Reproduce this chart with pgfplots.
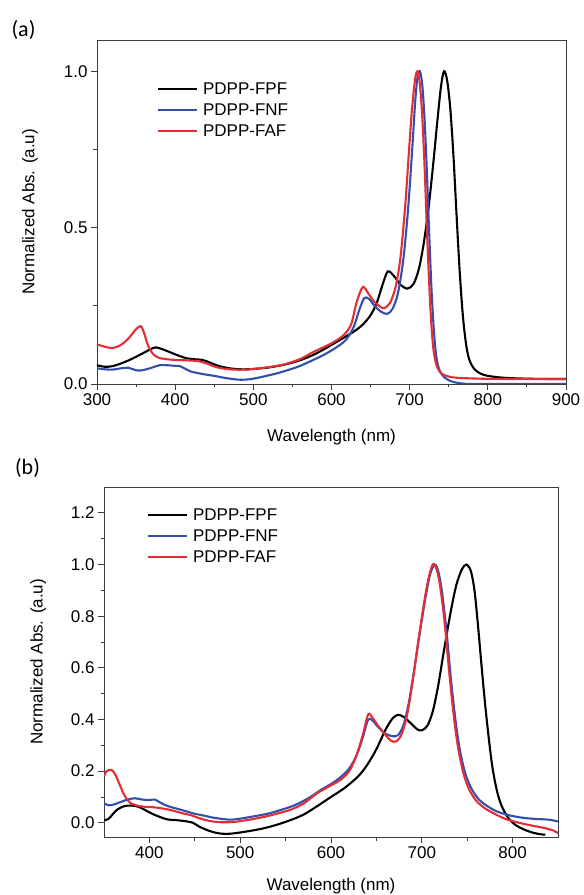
\documentclass[border=0pt]{standalone}
\usepackage{pgfplots}
\pgfplotsset{compat=1.18}
\usepackage{fontspec}
\setmainfont{Liberation Sans}
\newfontfamily\labfont{Carlito}
\definecolor{cblue}{RGB}{50,80,170}
\definecolor{cred}{RGB}{228,45,55}
\definecolor{axgray}{RGB}{60,60,60}
\pgfplotsset{
  myax/.style={
    scale only axis, anchor=south west,
    axis line style={axgray, line width=0.9pt},
    tick style={axgray, line width=0.9pt},
    tick align=outside, tick pos=left,
    major tick length=6pt, minor tick length=3.5pt,
    font=\fontsize{17}{20}\selectfont,
    tick label style={font=\fontsize{17}{20}\selectfont},
    label style={font=\fontsize{17}{20}\selectfont},
    /pgf/number format/assume math mode=true,
    yticklabel style={/pgf/number format/.cd, fixed, fixed zerofill, precision=1},
    xticklabel style={/pgf/number format/.cd, fixed, precision=0},
    every axis plot/.append style={line width=2.1pt, mark=none, smooth, tension=0.5},
    legend cell align=left,
    legend image code/.code={\draw[#1] (0pt,6pt) -- (39pt,6pt);},
    legend style={draw=none, fill=none, inner sep=0pt, outer sep=0pt, row sep=0pt,
      nodes={inner sep=0pt, text height=13pt, text depth=8pt, anchor=base west},
      /tikz/every odd column/.append style={column sep=5pt}},
  }
}
\begin{document}
\begin{tikzpicture}
\useasboundingbox (0pt,0pt) rectangle (584pt,895pt);
\node[font=\labfont\fontsize{22}{24}\selectfont] at (23.5pt,865pt) {(a)};
\node[font=\labfont\fontsize{22}{24}\selectfont] at (27.5pt,427pt) {(b)};
% ---------- (a) ----------
\begin{axis}[myax, at={(97pt,511pt)}, width=469pt, height=344pt,
  xmin=300, xmax=900, ymin=0, ymax=1.1,
  xtick={300,400,...,900}, ytick={0,0.5,1.0},
  minor x tick num=1, minor y tick num=1,
  xlabel={Wavelength (nm)}, ylabel={Normalized Abs. (a.u)},
  every axis x label/.style={at={(axis description cs:0.5,-0.154)}, anchor=center},
  every axis y label/.style={at={(axis description cs:-0.143,0.5)}, rotate=90, anchor=center},
  legend style={at={(axis description cs:0.128,0.879)}, anchor=north west},
]
\addplot[black] coordinates {
(300,0.060)(310,0.055)(320,0.057)(330,0.065)(340,0.075)(350,0.087)(360,0.100)(370,0.113)(376,0.117)
(385,0.110)(395,0.100)(405,0.090)(415,0.082)(425,0.079)(435,0.077)(445,0.068)(455,0.058)(470,0.050)
(485,0.047)(500,0.048)(520,0.053)(540,0.062)(560,0.076)(580,0.097)(600,0.125)(615,0.147)(630,0.170)
(640,0.190)(650,0.220)(658,0.260)(665,0.315)(672,0.360)(680,0.345)(688,0.318)(697,0.305)(705,0.320)
(712,0.370)(718,0.450)(724,0.560)(730,0.700)(735,0.830)(740,0.950)(744,1.000)(748,0.970)(752,0.880)
(756,0.730)(760,0.540)(764,0.360)(768,0.220)(772,0.130)(776,0.080)(782,0.050)(790,0.034)(800,0.026)
(820,0.020)(850,0.017)(880,0.016)(900,0.016)};
\addlegendentry{PDPP-FPF}
\addplot[cblue] coordinates {
(300,0.050)(310,0.047)(320,0.046)(330,0.050)(340,0.052)(345,0.048)(352,0.043)(360,0.045)(370,0.052)
(380,0.060)(390,0.060)(400,0.058)(405,0.058)(412,0.050)(420,0.040)(435,0.032)(450,0.026)(465,0.019)
(480,0.014)(490,0.014)(500,0.017)(515,0.025)(530,0.034)(545,0.045)(560,0.058)(575,0.075)(590,0.093)
(605,0.115)(618,0.140)(628,0.180)(636,0.240)(642,0.275)(648,0.272)(655,0.250)(663,0.232)(671,0.224)
(678,0.240)(685,0.290)(692,0.400)(698,0.560)(703,0.740)(707,0.900)(710,0.980)(713,1.000)(716,0.960)
(719,0.850)(722,0.680)(725,0.480)(728,0.300)(731,0.170)(734,0.090)(738,0.045)(744,0.022)(752,0.010)
(760,0.004)(770,0.001)(780,0.000)(900,0.000)};
\addlegendentry{PDPP-FNF}
\addplot[cred] coordinates {
(300,0.127)(310,0.119)(320,0.115)(330,0.124)(340,0.145)(350,0.175)(356,0.185)(360,0.165)(365,0.125)
(372,0.095)(380,0.083)(390,0.079)(400,0.077)(410,0.076)(420,0.075)(430,0.073)(440,0.066)(450,0.056)
(460,0.050)(475,0.046)(490,0.046)(500,0.048)(520,0.054)(540,0.063)(560,0.080)(575,0.100)(585,0.112)
(600,0.130)(615,0.155)(625,0.190)(632,0.260)(640,0.310)(647,0.290)(655,0.262)(663,0.246)(668,0.243)
(675,0.260)(682,0.310)(688,0.400)(694,0.560)(699,0.740)(703,0.880)(707,0.975)(710,1.000)(713,0.960)
(716,0.860)(719,0.700)(722,0.500)(725,0.320)(728,0.180)(731,0.100)(735,0.055)(740,0.035)(748,0.025)
(760,0.020)(790,0.017)(830,0.016)(900,0.016)};
\addlegendentry{PDPP-FAF}
\end{axis}
% ---------- (b) ----------
\begin{axis}[myax, at={(104pt,58pt)}, width=454pt, height=350pt,
  xmin=350, xmax=850, ymin=-0.055, ymax=1.3,
  xtick={400,500,...,800}, ytick={0,0.2,...,1.2},
  minor x tick num=1, minor y tick num=1,
  xlabel={Wavelength (nm)}, ylabel={Normalized Abs. (a.u)},
  every axis x label/.style={at={(axis description cs:0.5,-0.14)}, anchor=center},
  every axis y label/.style={at={(axis description cs:-0.145,0.5)}, rotate=90, anchor=center},
  legend style={at={(axis description cs:0.0947,0.941)}, anchor=north west},
]
\addplot[black] coordinates {
(350,0.010)(355,0.015)(360,0.035)(365,0.052)(372,0.064)(380,0.067)(388,0.062)(395,0.050)(403,0.035)
(412,0.022)(420,0.013)(430,0.010)(440,0.006)(448,0.000)(455,-0.015)(465,-0.030)(475,-0.040)(485,-0.043)
(495,-0.040)(510,-0.032)(525,-0.022)(540,-0.008)(555,0.010)(570,0.032)(585,0.065)(600,0.100)(615,0.135)
(630,0.180)(640,0.225)(650,0.285)(660,0.360)(668,0.405)(674,0.418)(680,0.410)(688,0.385)(695,0.362)
(700,0.358)(706,0.375)(712,0.430)(718,0.530)(725,0.680)(732,0.820)(738,0.920)(744,0.980)(749,1.000)
(754,0.975)(758,0.900)(762,0.760)(766,0.600)(770,0.450)(774,0.320)(778,0.210)(783,0.120)(788,0.065)
(795,0.020)(803,-0.008)(812,-0.025)(822,-0.038)(832,-0.045)(836,-0.046)};
\addlegendentry{PDPP-FPF}
\addplot[cblue] coordinates {
(350,0.075)(355,0.068)(360,0.070)(368,0.080)(376,0.090)(384,0.095)(392,0.090)(400,0.088)(406,0.090)
(412,0.078)(420,0.065)(430,0.055)(440,0.045)(450,0.035)(460,0.028)(470,0.020)(480,0.015)(490,0.012)
(500,0.016)(515,0.025)(530,0.035)(545,0.050)(560,0.068)(575,0.095)(590,0.130)(600,0.150)(610,0.175)
(620,0.210)(628,0.260)(635,0.330)(641,0.400)(646,0.395)(652,0.370)(660,0.345)(668,0.335)(674,0.340)
(680,0.380)(686,0.470)(692,0.600)(698,0.740)(704,0.870)(709,0.960)(714,1.000)(718,0.975)(722,0.900)
(727,0.750)(732,0.560)(737,0.400)(742,0.280)(748,0.190)(755,0.130)(763,0.090)(772,0.065)(782,0.045)
(795,0.030)(810,0.020)(825,0.015)(840,0.012)(850,0.005)};
\addlegendentry{PDPP-FNF}
\addplot[cred] coordinates {
(350,0.180)(353,0.200)(358,0.205)(362,0.190)(367,0.150)(372,0.110)(378,0.080)(385,0.068)(395,0.062)
(405,0.060)(415,0.055)(425,0.048)(435,0.038)(445,0.030)(455,0.018)(465,0.008)(475,0.003)(485,0.002)
(495,0.004)(510,0.012)(525,0.022)(540,0.035)(555,0.050)(570,0.075)(585,0.115)(600,0.145)(610,0.165)
(620,0.200)(628,0.260)(635,0.340)(641,0.420)(646,0.405)(652,0.375)(660,0.340)(666,0.318)(672,0.315)
(678,0.345)(684,0.420)(690,0.550)(696,0.700)(702,0.840)(707,0.940)(712,1.000)(716,0.985)(720,0.920)
(725,0.780)(730,0.590)(735,0.420)(740,0.290)(746,0.190)(752,0.130)(760,0.085)(770,0.055)(780,0.035)
(792,0.015)(805,0.002)(820,-0.010)(835,-0.020)(845,-0.030)(850,-0.040)};
\addlegendentry{PDPP-FAF}
\end{axis}
\end{tikzpicture}
\end{document}
